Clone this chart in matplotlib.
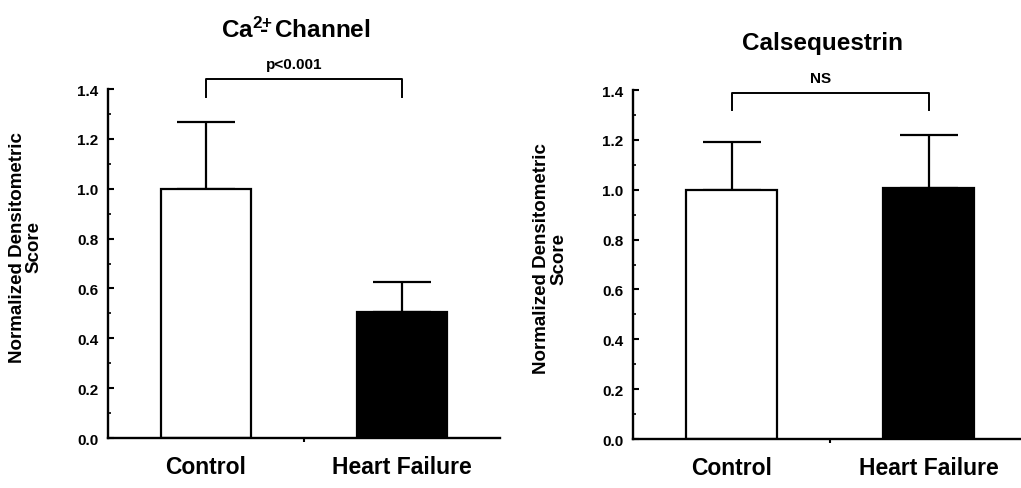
import matplotlib
matplotlib.use('Agg')
import matplotlib.pyplot as plt
import numpy as np

plt.rcParams['font.family'] = ['Liberation Sans', 'DejaVu Sans']
plt.rcParams['font.weight'] = 'bold'
plt.rcParams['mathtext.fontset'] = 'custom'
plt.rcParams['mathtext.bf'] = 'Liberation Sans:bold'
plt.rcParams['mathtext.rm'] = 'Liberation Sans:bold'
plt.rcParams['mathtext.default'] = 'bf'

categories = ['Control', 'Heart Failure']
bar_colors = ['white', 'black']

# Ca2+ channel
ca_mean = [1.0, 0.505]
ca_err = [0.266, 0.122]
ca_sig = 'p<0.001'

# Calsequestrin
cs_mean = [1.0, 1.005]
cs_err = [0.193, 0.214]
cs_sig = 'NS'

yticks = [0.0, 0.2, 0.4, 0.6, 0.8, 1.0, 1.2, 1.4]

fig = plt.figure(figsize=(10.21, 4.89), dpi=100)
ax1 = fig.add_axes([0.1058, 0.1022, 0.3839, 0.7137])
ax2 = fig.add_axes([0.6200, 0.1002, 0.3859, 0.7137])


def draw_panel(ax, means, errs, sig, title, title_y, brk_top, brk_bot, sig_y, label_y):
    x = np.arange(len(categories))
    ax.bar(x, means, width=0.46, color=bar_colors, edgecolor='black', linewidth=1.6, zorder=2)
    ax.errorbar(x, means, yerr=[[0] * len(errs), errs], fmt='none', ecolor='black',
                elinewidth=1.6, capsize=21, capthick=1.6, zorder=1)
    ax.set_xlim(-0.5, 1.5)
    ax.set_ylim(0, 1.4)
    for s in ['top', 'right']:
        ax.spines[s].set_visible(False)
    for s in ['left', 'bottom']:
        ax.spines[s].set_linewidth(1.7)
    ax.set_yticks(yticks)
    ax.set_yticklabels([f'{v:.1f}' for v in yticks], fontsize=11, fontweight='bold')
    ax.set_yticks(np.arange(0.1, 1.4, 0.2), minor=True)
    ax.tick_params(axis='y', which='major', direction='in', length=4, width=1.5, pad=7)
    ax.tick_params(axis='y', which='minor', direction='in', length=2.5, width=1.2)
    ax.set_xticks(x)
    ax.set_xticklabels(categories, fontsize=16.5, fontweight='bold')
    ax.set_xticks([0.5], minor=True)
    ax.tick_params(axis='x', which='major', length=0, pad=12)
    ax.tick_params(axis='x', which='minor', direction='out', length=3, width=1.5)

    # significance bracket
    ax.plot([0, 0, 1, 1], [brk_bot, brk_top, brk_top, brk_bot], color='black',
            linewidth=1.4, clip_on=False)
    ax.text(0.45, sig_y, sig, ha='center', va='center', fontsize=11, fontweight='bold')
    ax.text(0.46, title_y, title, ha='center', va='center', fontsize=17.5, fontweight='bold')

    ax.text(-0.21, label_y, 'Normalized Densitometric\nScore', transform=ax.transAxes,
            rotation=90, ha='center', va='center', fontsize=13.5, fontweight='bold',
            linespacing=1.0, multialignment='center')


draw_panel(ax1, ca_mean, ca_err, ca_sig, r'Ca$^{2{+}}\!\!\!$- Channel',
           1.64, 1.44, 1.368, 1.50, 0.55)
draw_panel(ax2, cs_mean, cs_err, cs_sig, 'Calsequestrin', 1.59, 1.388, 1.32, 1.45, 0.52)

fig.savefig('out.png', dpi=100)
